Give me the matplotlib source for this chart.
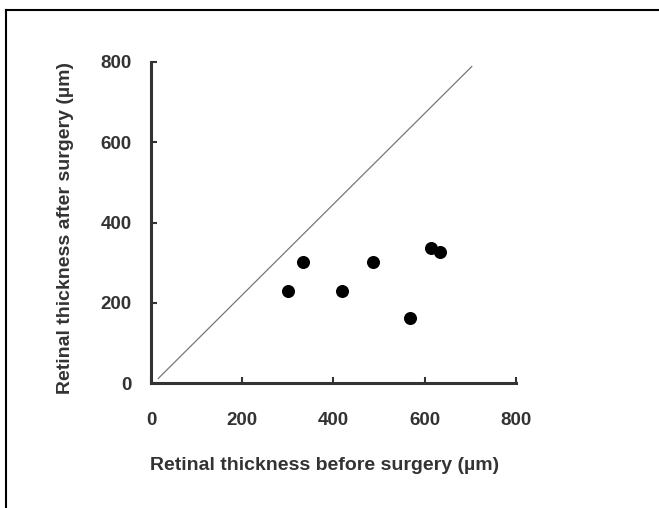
import matplotlib
matplotlib.use("Agg")
import matplotlib.pyplot as plt
from matplotlib.lines import Line2D

plt.rcParams['font.family'] = ['Liberation Sans', 'DejaVu Sans']

# data
before = [301, 334, 419, 487, 568, 614, 633]
after = [230, 302, 230, 302, 162, 337, 327]
ref_x = [16, 703]
ref_y = [12, 788]
ticks = [0, 200, 400, 600, 800]

fig = plt.figure(figsize=(6.59, 5.08), dpi=100)
ax = fig.add_axes([0.2291, 0.2455, 0.5539, 0.633])

ax.plot(ref_x, ref_y, color='#777777', lw=0.9)
ax.scatter(before, after, s=70, color='black', zorder=3)

ax.set_xlim(0, 800)
ax.set_ylim(0, 800)
ax.set_xticks(ticks)
ax.set_yticks(ticks)
for s in ['top', 'right']:
    ax.spines[s].set_visible(False)
for s in ['left', 'bottom']:
    ax.spines[s].set_linewidth(2.2)
    ax.spines[s].set_color('#333333')
ax.tick_params(axis='x', direction='in', length=4, width=1.5, pad=21,
               labelsize=13.5, colors='#333333')
ax.tick_params(axis='y', direction='in', length=4, width=1.5, pad=14,
               labelsize=13.5, colors='#333333')
for lab in ax.get_xticklabels() + ax.get_yticklabels():
    lab.set_fontweight('bold')

fig.text(325 / 659, 1 - 466 / 508, 'Retinal thickness before surgery (\u00b5m)',
         ha='center', va='center', fontsize=14, fontweight='bold', color='#333333')
fig.text(66 / 659, 1 - 228 / 508, 'Retinal thickness after surgery (\u00b5m)',
         ha='center', va='center', rotation=90, fontsize=14, fontweight='bold',
         color='#333333')

# frame of the original figure (top and left edges only)
fig.add_artist(Line2D([6 / 659, 1], [1 - 9.5 / 508, 1 - 9.5 / 508],
                      transform=fig.transFigure, color='black', lw=1.5))
fig.add_artist(Line2D([6 / 659, 6 / 659], [0, 1 - 9.5 / 508],
                      transform=fig.transFigure, color='black', lw=1.5))

fig.savefig('out.png', dpi=100)
